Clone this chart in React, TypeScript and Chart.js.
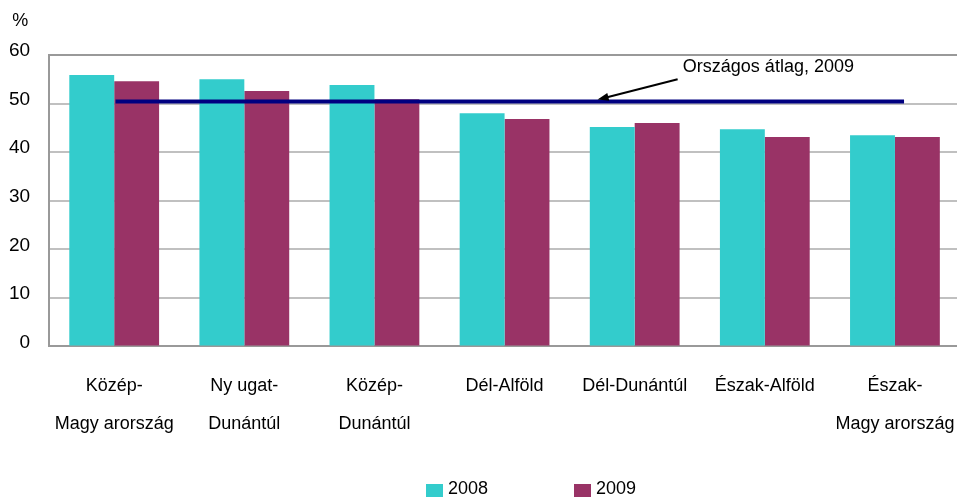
import React, { useEffect, useRef } from "react";
import { Chart, registerables } from "chart.js";
Chart.register(...registerables);

const categories: string[][] = [
  ["Közép-", "Magy arország"],
  ["Ny ugat-", "Dunántúl"],
  ["Közép-", "Dunántúl"],
  ["Dél-Alföld"],
  ["Dél-Dunántúl"],
  ["Észak-Alföld"],
  ["Észak-", "Magy arország"],
];
const series2008 = [55.9, 55.0, 53.8, 48.0, 45.2, 44.7, 43.5];
const series2009 = [54.6, 52.6, 50.9, 46.8, 46.0, 43.1, 43.1];
const seriesLabels = ["2008", "2009"];
const nationalAverage = 50.4;
const averageLabel = "Országos átlag, 2009";
const yTicks = { min: 0, max: 60, step: 10 };
const unitLabel = "%";

// annotation anchor points in data coordinates (category index, value)
const avgLineFrom = 0.01;
const avgLineTo = 6.07;
const arrowTail = { x: 4.33, y: 55.0 };
const arrowTip = { x: 3.715, y: nationalAverage };
const labelAnchor = { x: 4.37, y: 56.6 };

const COLORS = ["#33CCCC", "#993366"];
const NAVY = "#000080";
const FONT = "'Liberation Sans', Arial, sans-serif";

const overlay = {
  id: "overlay",
  afterDatasetsDraw(chart: any) {
    const { ctx, scales, chartArea } = chart;
    const xs = scales.x;
    const ys = scales.y;
    ctx.save();
    // average line
    const yAvg = ys.getPixelForValue(nationalAverage);
    ctx.strokeStyle = NAVY;
    ctx.lineWidth = 4;
    ctx.beginPath();
    ctx.moveTo(xs.getPixelForValue(avgLineFrom), yAvg);
    ctx.lineTo(xs.getPixelForValue(avgLineTo), yAvg);
    ctx.stroke();

    // arrow
    const tx = xs.getPixelForValue(arrowTail.x);
    const ty = ys.getPixelForValue(arrowTail.y);
    const hx = xs.getPixelForValue(arrowTip.x);
    const hy = ys.getPixelForValue(arrowTip.y) - 2;
    const ang = Math.atan2(hy - ty, hx - tx);
    const headLen = 11;
    const headW = 4;
    ctx.strokeStyle = "#000";
    ctx.fillStyle = "#000";
    ctx.lineWidth = 2;
    ctx.beginPath();
    ctx.moveTo(tx, ty);
    ctx.lineTo(hx - Math.cos(ang) * headLen * 0.8, hy - Math.sin(ang) * headLen * 0.8);
    ctx.stroke();
    ctx.beginPath();
    ctx.moveTo(hx, hy);
    ctx.lineTo(
      hx - Math.cos(ang) * headLen + Math.sin(ang) * headW,
      hy - Math.sin(ang) * headLen - Math.cos(ang) * headW
    );
    ctx.lineTo(
      hx - Math.cos(ang) * headLen - Math.sin(ang) * headW,
      hy - Math.sin(ang) * headLen + Math.cos(ang) * headW
    );
    ctx.closePath();
    ctx.fill();

    // annotation text
    ctx.font = `18px ${FONT}`;
    ctx.textAlign = "left";
    ctx.textBaseline = "alphabetic";
    ctx.fillText(averageLabel, xs.getPixelForValue(labelAnchor.x), ys.getPixelForValue(labelAnchor.y));

    // unit label
    ctx.font = `18px ${FONT}`;
    ctx.textAlign = "center";
    ctx.textBaseline = "middle";
    ctx.fillText(unitLabel, chartArea.left - 29, chartArea.top - 34);

    // legend
    const legendX = [426, 574];
    ctx.font = `18px ${FONT}`;
    ctx.textAlign = "left";
    ctx.textBaseline = "middle";
    seriesLabels.forEach((lab, i) => {
      ctx.fillStyle = COLORS[i];
      ctx.fillRect(legendX[i], 484, 17, 13);
      ctx.fillStyle = "#000";
      ctx.fillText(lab, legendX[i] + 22, 489);
    });
    ctx.restore();
  },
};

export default function App() {
  const ref = useRef<HTMLCanvasElement>(null);
  useEffect(() => {
    if (!ref.current) return;
    const chart = new Chart(ref.current, {
      type: "bar",
      data: {
        labels: categories,
        datasets: [
          { label: seriesLabels[0], data: series2008, backgroundColor: COLORS[0] },
          { label: seriesLabels[1], data: series2009, backgroundColor: COLORS[1] },
        ],
      },
      options: {
        responsive: false,
        animation: false,
        datasets: { bar: { categoryPercentage: 0.69, barPercentage: 1 } },
        layout: { padding: { left: 9, top: 55, right: 3, bottom: 54 } },
        plugins: { legend: { display: false }, tooltip: { enabled: false } },
        scales: {
          x: {
            grid: {
              display: true,
              drawOnChartArea: false,
              drawTicks: true,
              tickLength: 21,
              color: "rgba(0,0,0,0)",
              tickColor: "rgba(0,0,0,0)",
            },
            border: { display: true, color: "#999999", width: 2 },
            ticks: {
              color: "#000",
              padding: 0,
              maxRotation: 0,
              autoSkip: false,
              font: { family: FONT, size: 18, lineHeight: 2.1 },
            },
          },
          y: {
            min: yTicks.min,
            max: yTicks.max,
            grid: {
              drawTicks: true,
              tickLength: 19,
              tickColor: "rgba(0,0,0,0)",
              lineWidth: 2,
              color: (c: any) => (c.tick && c.tick.value === yTicks.max ? "#999999" : "#c0c0c0"),
            },
            border: { display: true, color: "#999999", width: 2 },
            ticks: {
              stepSize: yTicks.step,
              color: "#000",
              padding: 0,
              labelOffset: -4,
              font: { family: FONT, size: 19 },
            },
          },
        },
      },
      plugins: [overlay],
    });
    return () => chart.destroy();
  }, []);
  return (
    <div style={{ position: "absolute", left: 0, top: 0, width: 957, height: 497, overflow: "hidden", background: "#fff" }}>
      <canvas ref={ref} width={963} height={497} style={{ width: 963, height: 497, display: "block" }} />
    </div>
  );
}
